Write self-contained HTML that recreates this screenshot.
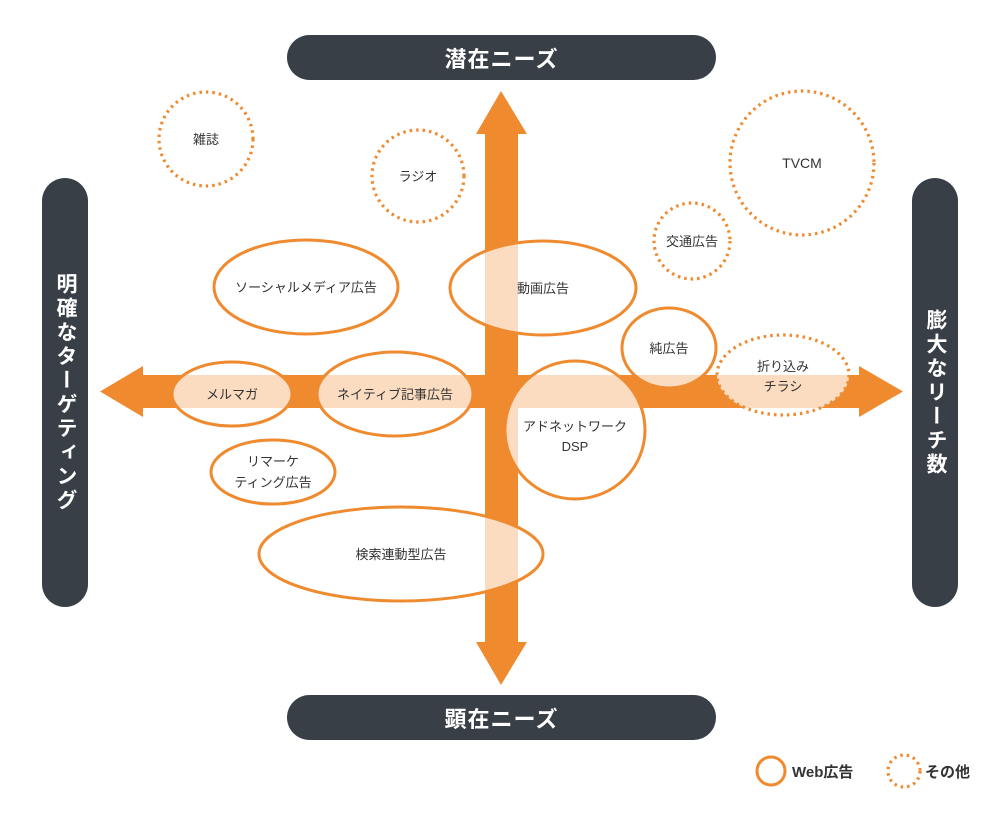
<!DOCTYPE html>
<html><head><meta charset="utf-8"><style>
html,body{margin:0;padding:0;background:#fff;}
body{width:1000px;height:822px;position:relative;overflow:hidden;font-family:"Liberation Sans","Noto Sans CJK JP",sans-serif;}
.pill{position:absolute;background:#383f46;color:#fff;font-weight:bold;display:flex;align-items:center;justify-content:center;}
.h{border-radius:23px;font-size:22px;letter-spacing:1px;}
.v{border-radius:23px;writing-mode:vertical-rl;font-size:21px;letter-spacing:3px;}
svg{position:absolute;left:0;top:0;}
</style></head><body>
<svg width="1000" height="822" viewBox="0 0 1000 822">
<defs>
<clipPath id="ell">
<ellipse cx="306" cy="287" rx="92" ry="47"/>
<ellipse cx="543" cy="288" rx="93" ry="47"/>
<ellipse cx="669" cy="348" rx="47" ry="40"/>
<ellipse cx="783" cy="375" rx="66" ry="40"/>
<ellipse cx="232" cy="394" rx="60" ry="32"/>
<ellipse cx="395" cy="394" rx="78" ry="42"/>
<ellipse cx="575" cy="430" rx="70" ry="69"/>
<ellipse cx="273" cy="472" rx="62" ry="32"/>
<ellipse cx="401" cy="554" rx="142" ry="47"/>
</clipPath>
<g id="arrows">
<polygon points="485,134 476,134 501,91 527,134 518,134 518,642 527,642 501,685 476,642 485,642"/>
<polygon points="143,375 143,366 100,391.5 143,417 143,408 859,408 859,417 903,391.5 859,366 859,375"/>
</g>
</defs>
<use href="#arrows" fill="#ef8a2f"/>
<g fill="#fff">
<ellipse cx="306" cy="287" rx="92" ry="47"/>
<ellipse cx="543" cy="288" rx="93" ry="47"/>
<ellipse cx="669" cy="348" rx="47" ry="40"/>
<ellipse cx="783" cy="375" rx="66" ry="40"/>
<ellipse cx="232" cy="394" rx="60" ry="32"/>
<ellipse cx="395" cy="394" rx="78" ry="42"/>
<ellipse cx="575" cy="430" rx="70" ry="69"/>
<ellipse cx="273" cy="472" rx="62" ry="32"/>
<ellipse cx="401" cy="554" rx="142" ry="47"/>
</g>
<use href="#arrows" fill="#fbdcc0" clip-path="url(#ell)"/>
<g fill="none" stroke="#ef8a2f" stroke-width="3">
<ellipse cx="306" cy="287" rx="92" ry="47"/>
<ellipse cx="543" cy="288" rx="93" ry="47"/>
<ellipse cx="669" cy="348" rx="47" ry="40"/>
<ellipse cx="232" cy="394" rx="60" ry="32"/>
<ellipse cx="395" cy="394" rx="78" ry="42"/>
<ellipse cx="575" cy="430" rx="70" ry="69"/>
<ellipse cx="273" cy="472" rx="62" ry="32"/>
<ellipse cx="401" cy="554" rx="142" ry="47"/>
<circle cx="771" cy="771" r="14"/>
</g>
<g fill="none" stroke="#ef8a2f" stroke-width="3.2" stroke-dasharray="2.5 4">
<circle cx="206" cy="139" r="47"/>
<circle cx="418" cy="176" r="46"/>
<circle cx="802" cy="163" r="72"/>
<circle cx="692" cy="241" r="38"/>
<ellipse cx="783" cy="375" rx="66" ry="40"/>
<circle cx="904" cy="771" r="16"/>
</g>
<g fill="#333" font-size="13" text-anchor="middle" font-family="Liberation Sans, Noto Sans CJK JP, sans-serif">
<text x="206" y="144">雑誌</text>
<text x="418" y="181">ラジオ</text>
<text x="802" y="168" font-size="14">TVCM</text>
<text x="692" y="246">交通広告</text>
<text x="306" y="292">ソーシャルメディア広告</text>
<text x="543" y="293">動画広告</text>
<text x="669" y="353">純広告</text>
<text x="783" y="371">折り込み</text>
<text x="783" y="391">チラシ</text>
<text x="232" y="399">メルマガ</text>
<text x="395" y="399">ネイティブ記事広告</text>
<text x="575" y="431">アドネットワーク</text>
<text x="575" y="451">DSP</text>
<text x="273" y="466">リマーケ</text>
<text x="273" y="487">ティング広告</text>
<text x="401" y="559">検索連動型広告</text>
<text x="792" y="777" text-anchor="start" font-size="15" font-weight="bold">Web広告</text>
<text x="925" y="777" text-anchor="start" font-size="15" font-weight="bold">その他</text>
</g>
</svg>
<div class="pill h" style="left:287px;top:35px;width:429px;height:45px;">潜在ニーズ</div>
<div class="pill h" style="left:287px;top:695px;width:429px;height:45px;">顕在ニーズ</div>
<div class="pill v" style="left:42px;top:178px;width:46px;height:429px;">明確なターゲティング</div>
<div class="pill v" style="left:912px;top:178px;width:46px;height:429px;">膨大なリーチ数</div>
</body></html>
